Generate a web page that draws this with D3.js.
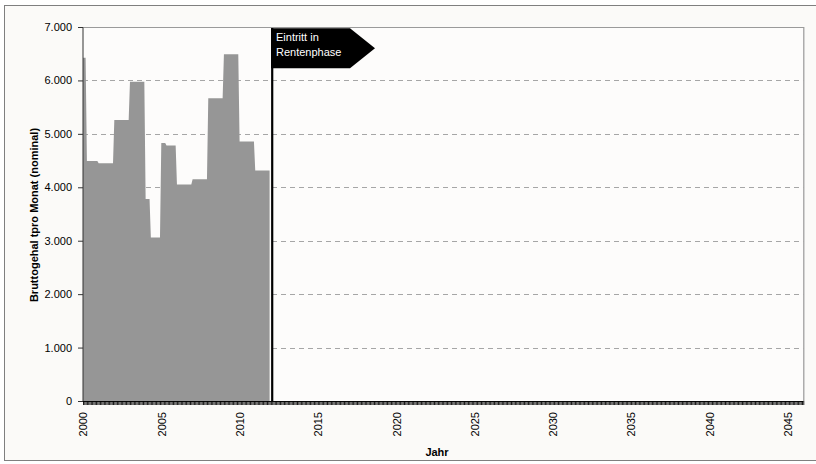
<!DOCTYPE html>
<html>
<head>
<meta charset="utf-8">
<script src="https://cdn.jsdelivr.net/npm/d3@7"></script>
<style>
  html, body { margin: 0; padding: 0; background: #ffffff; }
  svg { display: block; font-family: "Liberation Sans", Arial, sans-serif; }
</style>
</head>
<body>
<div id="chart"></div>
<script>
// ---- data (monthly gross salary, Jan 2000 .. Dec 2011) ----
const startYear = 2000;
const totalMonths = 552;           // axis runs Jan 2000 .. Jan 2046
const salary = [
  6425, 6425, 6425, 4490, 4490, 4490, 4490, 4490, 4490, 4490, 4490, 4490, // 2000
  4450, 4450, 4450, 4450, 4450, 4450, 4450, 4450, 4450, 4450, 4450, 4450, // 2001
  5260, 5260, 5260, 5260, 5260, 5260, 5260, 5260, 5260, 5260, 5260, 5260, // 2002
  5975, 5975, 5975, 5975, 5975, 5975, 5975, 5975, 5975, 5975, 5975, 5975, // 2003
  3780, 3780, 3780, 3780, 3060, 3060, 3060, 3060, 3060, 3060, 3060, 3060, // 2004
  4830, 4830, 4830, 4830, 4780, 4780, 4780, 4780, 4780, 4780, 4780, 4780, // 2005
  4050, 4050, 4050, 4050, 4050, 4050, 4050, 4050, 4050, 4050, 4050, 4050, // 2006
  4150, 4150, 4150, 4150, 4150, 4150, 4150, 4150, 4150, 4150, 4150, 4150, // 2007
  5665, 5665, 5665, 5665, 5665, 5665, 5665, 5665, 5665, 5665, 5665, 5665, // 2008
  6490, 6490, 6490, 6490, 6490, 6490, 6490, 6490, 6490, 6490, 6490, 6490, // 2009
  4855, 4855, 4855, 4855, 4855, 4855, 4855, 4855, 4855, 4855, 4855, 4855, // 2010
  4315, 4315, 4315, 4315, 4315, 4315, 4315, 4315, 4315, 4315, 4315, 4315  // 2011
];
const yTicks = [0, 1000, 2000, 3000, 4000, 5000, 6000, 7000];
const yearLabels = [2000, 2005, 2010, 2015, 2020, 2025, 2030, 2035, 2040, 2045];
const retirementMonth = 145;       // Feb 2012
const annotationLines = ["Eintritt in", "Rentenphase"];
const yTitle = "Bruttogehal tpro Monat (nominal)";
const xTitle = "Jahr";

// ---- layout ----
const W = 816, H = 464;
const plot = { left: 83, right: 803.3, top: 27, bottom: 401 };

const svg = d3.select("#chart").append("svg").attr("width", W).attr("height", H);

svg.append("rect").attr("x", 4.5).attr("y", 5.5).attr("width", 820).attr("height", 455)
  .attr("fill", "#fbfaf8").attr("stroke", "#7f7f7f").attr("stroke-width", 1);

svg.append("rect").attr("x", plot.left).attr("y", plot.top)
  .attr("width", plot.right - plot.left).attr("height", plot.bottom - plot.top)
  .attr("fill", "#fdfcfb");

const x = d3.scaleLinear().domain([0, totalMonths]).range([plot.left, plot.right]);
const y = d3.scaleLinear().domain([0, 7000]).range([plot.bottom, plot.top]);

// gridlines
svg.append("g").selectAll("line").data(yTicks.filter(v => v > 0 && v < 7000)).join("line")
  .attr("x1", plot.left).attr("x2", plot.right)
  .attr("y1", d => Math.round(y(d)) + 0.5).attr("y2", d => Math.round(y(d)) + 0.5)
  .attr("stroke", "#a6a6a6").attr("stroke-width", 1).attr("stroke-dasharray", "5,4");

// top & right border of plot
svg.append("path")
  .attr("d", `M${plot.left},${plot.top + 0.5}H${plot.right + 0.5}V${plot.bottom}`)
  .attr("fill", "none").attr("stroke", "#9a9a9a").attr("stroke-width", 1.2);

// area
const area = d3.area()
  .x((d, i) => x(i))
  .y0(y(0))
  .y1(d => y(d));
svg.append("path").datum(salary)
  .attr("d", area)
  .attr("fill", "#969696");

// retirement line
svg.append("line")
  .attr("x1", x(retirementMonth)).attr("x2", x(retirementMonth))
  .attr("y1", y(0)).attr("y2", plot.top + 1)
  .attr("stroke", "#000").attr("stroke-width", 2.2);

// flag
const fx = x(retirementMonth) - 1.2;
const flagTop = 28.3, flagBot = 68.3;
svg.append("path")
  .attr("d", `M${fx},${flagTop}H${fx + 79}L${fx + 104},${(flagTop + flagBot) / 2}L${fx + 79},${flagBot}H${fx}Z`)
  .attr("fill", "#000");
svg.append("g").selectAll("text").data(annotationLines).join("text")
  .attr("x", fx + 5).attr("y", (d, i) => 41 + i * 15)
  .attr("fill", "#fff").attr("font-size", 11).text(d => d);

// y axis
const yAxis = d3.axisLeft(y).tickValues(yTicks).tickSize(5).tickPadding(6)
  .tickFormat(d => d3.format(",")(d).replace(/,/g, "."));
const gy = svg.append("g").attr("transform", `translate(${plot.left},0)`).call(yAxis);
gy.select(".domain").attr("stroke", "#333").attr("d", `M-5,${plot.top + 0.5}H0V${plot.bottom}`);
gy.selectAll(".tick line").attr("stroke", "#333");
gy.selectAll("text").attr("font-size", 11).attr("fill", "#000")
  .attr("font-family", "'Liberation Sans', Arial, sans-serif");

// x axis: monthly ticks
const months = d3.range(0, totalMonths + 1);
const xAxis = d3.axisBottom(x).tickValues(months).tickSize(4).tickFormat("");
const gx = svg.append("g").attr("transform", `translate(0,${plot.bottom})`).call(xAxis);
gx.select(".domain").attr("stroke", "#111").attr("d", `M${plot.left},0.5H${plot.right}`);
gx.selectAll(".tick line").attr("stroke", "#000").attr("stroke-width", 0.9);

// x year labels
const labelAxis = d3.axisBottom(x)
  .tickValues(yearLabels.map(yr => (yr - startYear) * 12))
  .tickSize(0).tickFormat(m => String(startYear + m / 12));
const gl = svg.append("g").attr("transform", `translate(0,${plot.bottom})`).call(labelAxis);
gl.select(".domain").remove();
gl.selectAll("text")
  .attr("font-size", 11).attr("fill", "#000")
  .attr("font-family", "'Liberation Sans', Arial, sans-serif")
  .attr("transform", "rotate(-90)")
  .attr("text-anchor", "end")
  .attr("x", -11).attr("y", 0).attr("dy", "0.35em");

// titles
svg.append("text").attr("x", 437).attr("y", 456).attr("text-anchor", "middle")
  .attr("font-size", 11).attr("font-weight", "bold").text(xTitle);
svg.append("text").attr("transform", "translate(37.5,215) rotate(-90)")
  .attr("text-anchor", "middle").attr("font-size", 11).attr("font-weight", "bold").text(yTitle);
</script>
</body>
</html>
